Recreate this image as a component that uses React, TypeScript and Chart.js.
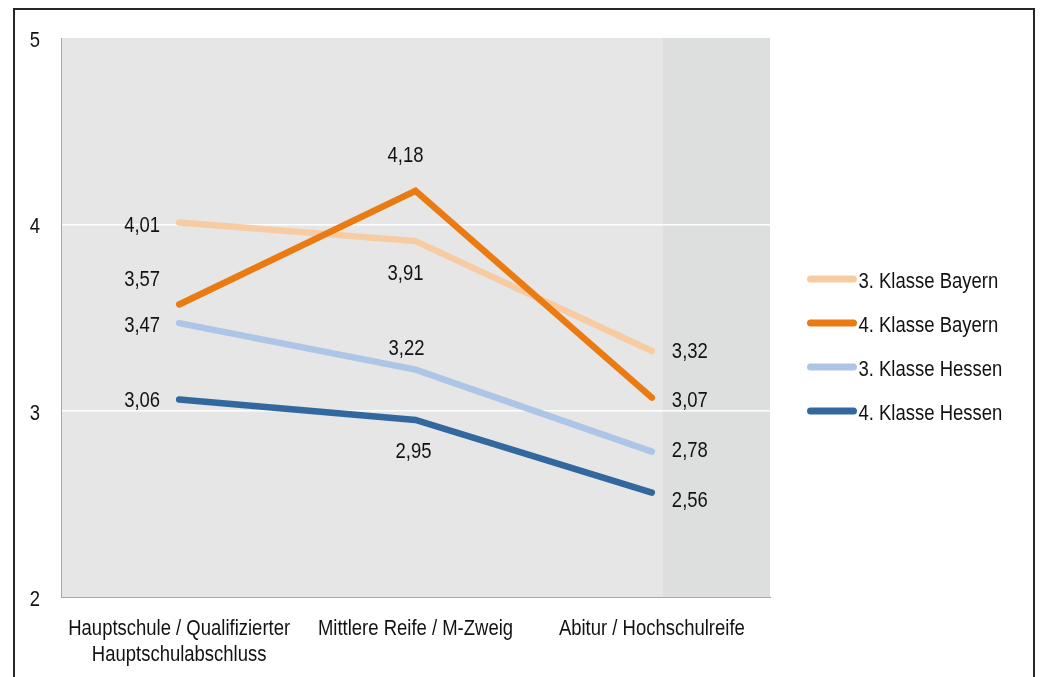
import React, { useEffect, useRef } from "react";
import { Chart, registerables } from "chart.js";

Chart.register(...registerables);

// Categories along the x axis (first one wraps onto two lines)
const categories: (string | string[])[] = [
  ["Hauptschule / Qualifizierter", "Hauptschulabschluss"],
  "Mittlere Reife / M-Zweig",
  "Abitur / Hochschulreife",
];

const seriesNames = ["3. Klasse Bayern", "4. Klasse Bayern", "3. Klasse Hessen", "4. Klasse Hessen"];

// Mean values per school-leaving qualification
const bayern3 = [4.01, 3.91, 3.32];
const bayern4 = [3.57, 4.18, 3.07];
const hessen3 = [3.47, 3.22, 2.78];
const hessen4 = [3.06, 2.95, 2.56];

const yMin = 2;
const yMax = 5;
const yGridLines = [3, 4];

const FONT = "22px 'Liberation Sans', Arial, sans-serif";
const SQUEEZE = 0.84; // horizontal condensing of all text (narrow look)
const TEXT_COLOR = "#121212";

const colors = ["#f8cca2", "#e97b12", "#adc5e6", "#33689f"];
// Draw order: lower value is painted on top
const drawOrder = [1, 0, 2, 3];

// Label placement relative to each point [dx, dy]
const labelOffsets: [number, number][][] = [
  [[-37, 3], [-10, 33], [38, 1]],
  [[-37, -25], [-10, -35], [38, 3]],
  [[-37, 3], [-9, -21], [38, -1]],
  [[-37, 1], [-2, 32], [38, 8]],
];

const fmt = (v: number) => v.toFixed(2).replace(".", ",");

function drawText(ctx: CanvasRenderingContext2D, text: string, x: number, y: number, align: CanvasTextAlign) {
  ctx.save();
  ctx.translate(x, y);
  ctx.scale(SQUEEZE, 1);
  ctx.font = FONT;
  ctx.fillStyle = TEXT_COLOR;
  ctx.textAlign = align;
  ctx.textBaseline = "middle";
  ctx.fillText(text, 0, 0);
  ctx.restore();
}

const plotBackground = {
  id: "plotBackground",
  beforeDraw(chart: any) {
    const { ctx, chartArea } = chart;
    const { left, top, right, bottom } = chartArea;
    ctx.save();
    ctx.fillStyle = "#e5e6e5";
    ctx.fillRect(left, top, right - left, bottom - top);
    // shaded band at the right end of the plot
    const bandStart = left + (right - left) * 0.849;
    ctx.fillStyle = "#dddfde";
    ctx.fillRect(bandStart, top, right - bandStart, bottom - top);
    ctx.restore();
  },
};

// Axis tick labels in condensed type
const axisLabels = {
  id: "axisLabels",
  afterDraw(chart: any) {
    const { ctx, chartArea } = chart;
    const xs = chart.scales.x;
    const ys = chart.scales.y;
    chart.data.labels.forEach((lab: string | string[], i: number) => {
      const lines = Array.isArray(lab) ? lab : [lab];
      const x = xs.getPixelForTick(i);
      lines.forEach((line, li) => drawText(ctx, line, x, chartArea.bottom + 32 + li * 26, "center"));
    });
    ys.ticks.forEach((t: any) => {
      drawText(ctx, String(t.value), chartArea.left - 21, ys.getPixelForValue(t.value) + 3, "right");
    });
  },
};

const valueLabels = {
  id: "valueLabels",
  afterDatasetsDraw(chart: any) {
    const { ctx } = chart;
    chart.data.datasets.forEach((ds: any, di: number) => {
      const meta = chart.getDatasetMeta(di);
      meta.data.forEach((pt: any, i: number) => {
        const [dx, dy] = labelOffsets[di][i];
        drawText(ctx, fmt(ds.data[i]), pt.x + dx, pt.y + dy, "center");
      });
    });
  },
};

const sideLegend = {
  id: "sideLegend",
  afterDraw(chart: any) {
    const { ctx, chartArea } = chart;
    const x0 = chartArea.right + 40.5;
    chart.data.datasets.forEach((ds: any, i: number) => {
      const y = chartArea.top + 241 + i * 44;
      ctx.save();
      ctx.strokeStyle = ds.borderColor;
      ctx.lineWidth = 7;
      ctx.lineCap = "round";
      ctx.beginPath();
      ctx.moveTo(x0, y);
      ctx.lineTo(x0 + 43, y);
      ctx.stroke();
      ctx.restore();
      drawText(ctx, ds.label, x0 + 48, y + 3, "left");
    });
  },
};

export default function App() {
  const canvasRef = useRef<HTMLCanvasElement | null>(null);

  useEffect(() => {
    if (!canvasRef.current) return;
    const series = [bayern3, bayern4, hessen3, hessen4];
    const chart = new Chart(canvasRef.current, {
      type: "line",
      data: {
        labels: categories,
        datasets: series.map((data, i) => ({
          label: seriesNames[i],
          data,
          borderColor: colors[i],
          backgroundColor: colors[i],
          borderWidth: 6.5,
          borderCapStyle: "round" as const,
          borderJoinStyle: "miter" as const,
          pointRadius: 0,
          pointHoverRadius: 0,
          tension: 0,
          fill: false,
          order: drawOrder[i],
        })),
      },
      options: {
        responsive: false,
        animation: false,
        devicePixelRatio: 1,
        layout: { padding: { top: 38, right: 270, bottom: 0, left: 0 } },
        plugins: {
          legend: { display: false },
          tooltip: { enabled: false },
        },
        scales: {
          x: {
            type: "category",
            offset: true,
            grid: { display: false, drawTicks: false },
            border: { display: true, color: "#a8a8a8", width: 1 },
            ticks: { display: false, autoSkip: false, maxRotation: 0 },
            afterFit(scale: any) {
              scale.height = 80;
            },
          },
          y: {
            min: yMin,
            max: yMax,
            grid: {
              drawTicks: false,
              color: (c: any) => (yGridLines.includes(c.tick?.value) ? "#ffffff" : "rgba(0,0,0,0)"),
              lineWidth: 1.5,
            },
            border: { display: true, color: "#a8a8a8", width: 1 },
            ticks: { display: false, stepSize: 1 },
            afterFit(scale: any) {
              scale.width = 61;
            },
          },
        },
      },
      plugins: [plotBackground, axisLabels, valueLabels, sideLegend],
    });
    return () => chart.destroy();
  }, []);

  return (
    <div
      style={{
        position: "absolute",
        left: 0,
        top: 0,
        width: 1040,
        height: 677,
        overflow: "hidden",
        background: "#ffffff",
      }}
    >
      <div
        style={{
          position: "absolute",
          left: 13,
          top: 8,
          width: 1022,
          height: 720,
          boxSizing: "border-box",
          border: "2px solid #262626",
          borderBottom: "none",
        }}
      />
      <canvas
        ref={canvasRef}
        width={1040}
        height={677}
        style={{ position: "absolute", left: 0, top: 0, width: 1040, height: 677 }}
      />
    </div>
  );
}
